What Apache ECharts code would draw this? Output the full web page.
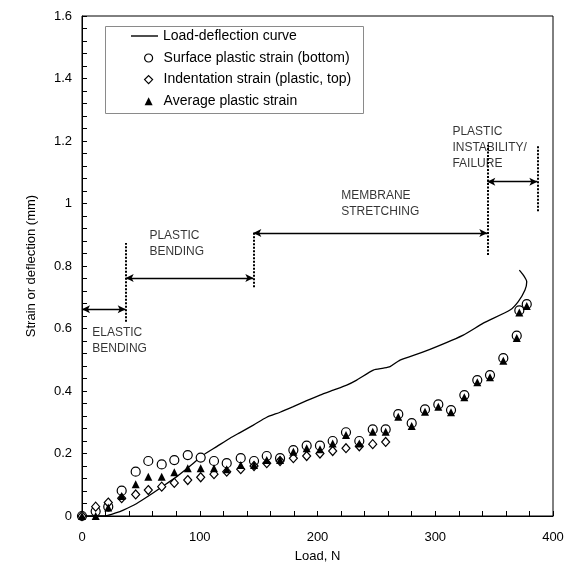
<!DOCTYPE html>
<html>
<head>
	<meta charset="utf-8" />
	<title>Load-deflection and strain</title>
	<script src="https://cdn.jsdelivr.net/npm/echarts@6/dist/echarts.min.js"></script>
	<style>
		body { margin: 0; background: #fff; }
	</style>
</head>
<body>
	<div id="main" style="width: 577px;height: 574px;"></div>
	<script type="text/javascript">

		// load (N) of each measured point
		var loads = [0, 11.6, 22.3, 33.7, 45.6, 56.3, 67.7, 78.4, 89.8, 100.8, 112.1, 122.9, 134.8,
			146.1, 156.9, 168.2, 179.5, 190.8, 202.1, 212.9, 224.2, 235.5, 246.9, 257.9,
			268.6, 280.0, 291.3, 302.6, 313.4, 324.7, 335.7, 346.5, 357.8, 369.2, 371.4, 377.7];

		// surface plastic strain (bottom)
		var surfaceStrain = [0, 0.015, 0.03, 0.081, 0.142, 0.176, 0.165, 0.179, 0.195, 0.187, 0.176, 0.169, 0.185,
			0.176, 0.192, 0.185, 0.211, 0.225, 0.225, 0.24, 0.268, 0.24, 0.277, 0.277,
			0.326, 0.297, 0.341, 0.357, 0.339, 0.387, 0.435, 0.451, 0.505, 0.577, 0.658, 0.678];

		// indentation strain (plastic, top) - only up to ~258 N
		var indentStrain = [0, 0.03, 0.043, 0.057, 0.069, 0.083, 0.094, 0.106, 0.115, 0.124, 0.134, 0.142, 0.15,
			0.16, 0.169, 0.176, 0.185, 0.192, 0.2, 0.208, 0.217, 0.223, 0.23, 0.237];

		// average plastic strain
		var avgStrain = [0, 0, 0.027, 0.064, 0.102, 0.126, 0.126, 0.14, 0.153, 0.153, 0.153, 0.15, 0.163,
			0.163, 0.179, 0.179, 0.206, 0.217, 0.214, 0.232, 0.259, 0.232, 0.27, 0.27,
			0.318, 0.288, 0.334, 0.35, 0.332, 0.38, 0.428, 0.444, 0.497, 0.57, 0.651, 0.672];

		// load-deflection curve
		var curveLoad = [0, 11, 21.0, 28.0, 35.1, 46.5, 57.7, 69.0, 80.4, 91.7, 103.0, 114.4, 125.7, 134.2,
			145.5, 156.9, 168.2, 179.4, 190.8, 202.1, 213.4, 224.8, 233.3, 247.4, 255.9, 261.6,
			270.1, 289.9, 323.8, 340.8, 363.5, 370.5, 376.2, 377.7, 374.8, 371.4];
		var curveDefl = [0, 0, 0.001, 0.009, 0.019, 0.04, 0.067, 0.096, 0.126, 0.16, 0.195, 0.222, 0.249, 0.267,
			0.291, 0.316, 0.332, 0.35, 0.369, 0.387, 0.403, 0.419, 0.435, 0.467, 0.473, 0.478,
			0.499, 0.525, 0.579, 0.617, 0.659, 0.686, 0.723, 0.75, 0.771, 0.787];

		// phase boundaries: load, bottom, top of dotted line
		var phaseBounds = [[37.1, 0.622, 0.874], [145.5, 0.732, 0.91], [344.2, 0.835, 1.187], [386.7, 0.975, 1.187]];
		// phase arrows: from load, to load, level
		var phaseArrows = [[0, 37.1, 0.662], [37.1, 145.5, 0.762], [145.5, 344.2, 0.906], [344.2, 386.7, 1.07]];
		// phase labels: load, level, text
		var phaseLabels = [
			[9.1, 0.56, 'ELASTIC\nBENDING'],
			[57.7, 0.871, 'PLASTIC\nBENDING'],
			[220.6, 0.999, 'MEMBRANE\nSTRETCHING'],
			[315, 1.176, 'PLASTIC\nINSTABILITY/\nFAILURE']
		];

		var pair = function(xs, ys) {
			var out = [];
			for (var i = 0; i < ys.length; i++) out.push([xs[i], ys[i]]);
			return out;
		};

		var myChart = echarts.init(document.getElementById('main'));

		var font = "'Liberation Sans', Arial, sans-serif";
		var ink = '#000';

		var option = {
			animation: false,
			textStyle: { fontFamily: font, color: ink },
			grid: {
				left: 82, right: 24, top: 16, bottom: 58,
				show: true, borderColor: ink, borderWidth: 1
			},
			legend: [
				{
					data: [{ name: 'Load-deflection curve', icon: 'rect' }],
					left: 131, top: 29, padding: 0,
					itemWidth: 27, itemHeight: 1.4,
					textStyle: { fontSize: 14, color: ink, fontFamily: font }
				},
				{
					data: [
						{ name: 'Surface plastic strain (bottom)', icon: 'circle' },
						{ name: 'Indentation strain (plastic, top)', icon: 'diamond' },
						{ name: 'Average plastic strain', icon: 'triangle' }
					],
					orient: 'vertical',
					left: 144, top: 51, padding: 0,
					itemWidth: 8, itemHeight: 8, itemGap: 7.6,
					itemStyle: { borderWidth: 1.2 },
					textStyle: { fontSize: 14, color: ink, fontFamily: font, padding: [0, 0, 0, 6] }
				}
			],
			graphic: [{
				type: 'rect',
				shape: { x: 105.5, y: 26.5, width: 258, height: 87 },
				style: { fill: 'none', stroke: '#8a8a8a', lineWidth: 1 },
				z: 10
			}],
			xAxis: {
				type: 'value',
				min: 0, max: 400, interval: 100,
				name: 'Load, N',
				nameLocation: 'middle', nameGap: 34,
				nameTextStyle: { fontSize: 13, color: ink, fontFamily: font },
				axisLine: { lineStyle: { color: ink, width: 1 } },
				axisTick: { inside: true, length: 5, lineStyle: { color: ink } },
				minorTick: { show: true, splitNumber: 5, length: 5, lineStyle: { color: ink } },
				axisLabel: { fontSize: 13, color: ink, margin: 15, fontFamily: font },
				splitLine: { show: false }
			},
			yAxis: {
				type: 'value',
				min: 0, max: 1.6, interval: 0.2,
				name: 'Strain or deflection (mm)',
				nameLocation: 'middle', nameGap: 44,
				nameTextStyle: { fontSize: 13, color: ink, fontFamily: font },
				axisLine: { show: true, lineStyle: { color: ink, width: 1 } },
				axisTick: { show: true, inside: true, length: 5, lineStyle: { color: ink } },
				minorTick: { show: true, splitNumber: 5, length: 5, lineStyle: { color: ink } },
				axisLabel: { fontSize: 13, color: ink, margin: 10, fontFamily: font },
				splitLine: { show: false }
			},
			series: [
				{
					name: 'Load-deflection curve',
					type: 'line',
					data: pair(curveLoad, curveDefl),
					symbol: 'none',
					smooth: 0.2,
					lineStyle: { color: ink, width: 1.3 },
					itemStyle: { color: ink },
					z: 2
				},
				{
					name: 'Surface plastic strain (bottom)',
					type: 'scatter',
					data: pair(loads, surfaceStrain),
					symbol: 'circle',
					symbolSize: 9,
					itemStyle: { color: '#fff', borderColor: ink, borderWidth: 1.2, opacity: 1 },
					z: 3
				},
				{
					name: 'Indentation strain (plastic, top)',
					type: 'scatter',
					data: pair(loads, indentStrain),
					symbol: 'diamond',
					symbolSize: [8, 9],
					itemStyle: { color: '#fff', borderColor: ink, borderWidth: 1.2, opacity: 1 },
					z: 4
				},
				{
					name: 'Average plastic strain',
					type: 'scatter',
					data: pair(loads, avgStrain),
					symbol: 'triangle',
					symbolSize: 8,
					itemStyle: { color: ink, opacity: 1 },
					z: 5
				},
				{
					// dotted phase boundaries
					name: 'bounds',
					type: 'line',
					data: [],
					markLine: {
						silent: true,
						symbol: ['none', 'none'],
						label: { show: false },
						lineStyle: { color: ink, width: 2, type: [2, 1.5] },
						data: phaseBounds.map(function(b) {
							return [{ coord: [b[0], b[1]] }, { coord: [b[0], b[2]] }];
						})
					}
				},
				{
					// double arrows between boundaries
					name: 'arrows',
					type: 'line',
					data: [],
					markLine: {
						silent: true,
						symbol: ['arrow', 'arrow'],
						symbolSize: [6, 8],
						label: { show: false },
						lineStyle: { color: ink, width: 1.3, type: 'solid' },
						data: phaseArrows.map(function(a) {
							return [{ coord: [a[0], a[2]] }, { coord: [a[1], a[2]] }];
						})
					}
				},
				{
					// phase names
					name: 'phases',
					type: 'scatter',
					data: phaseLabels,
					symbolSize: 1,
					itemStyle: { color: 'rgba(0,0,0,0)' },
					label: {
						show: true,
						position: [0, 0],
						align: 'left',
						verticalAlign: 'middle',
						fontSize: 12,
						lineHeight: 16,
						color: ink,
						fontFamily: font,
						formatter: function(p) { return p.data[2]; }
					}
				}
			]
		};

		myChart.setOption(option);

	</script>
</body>
</html>
